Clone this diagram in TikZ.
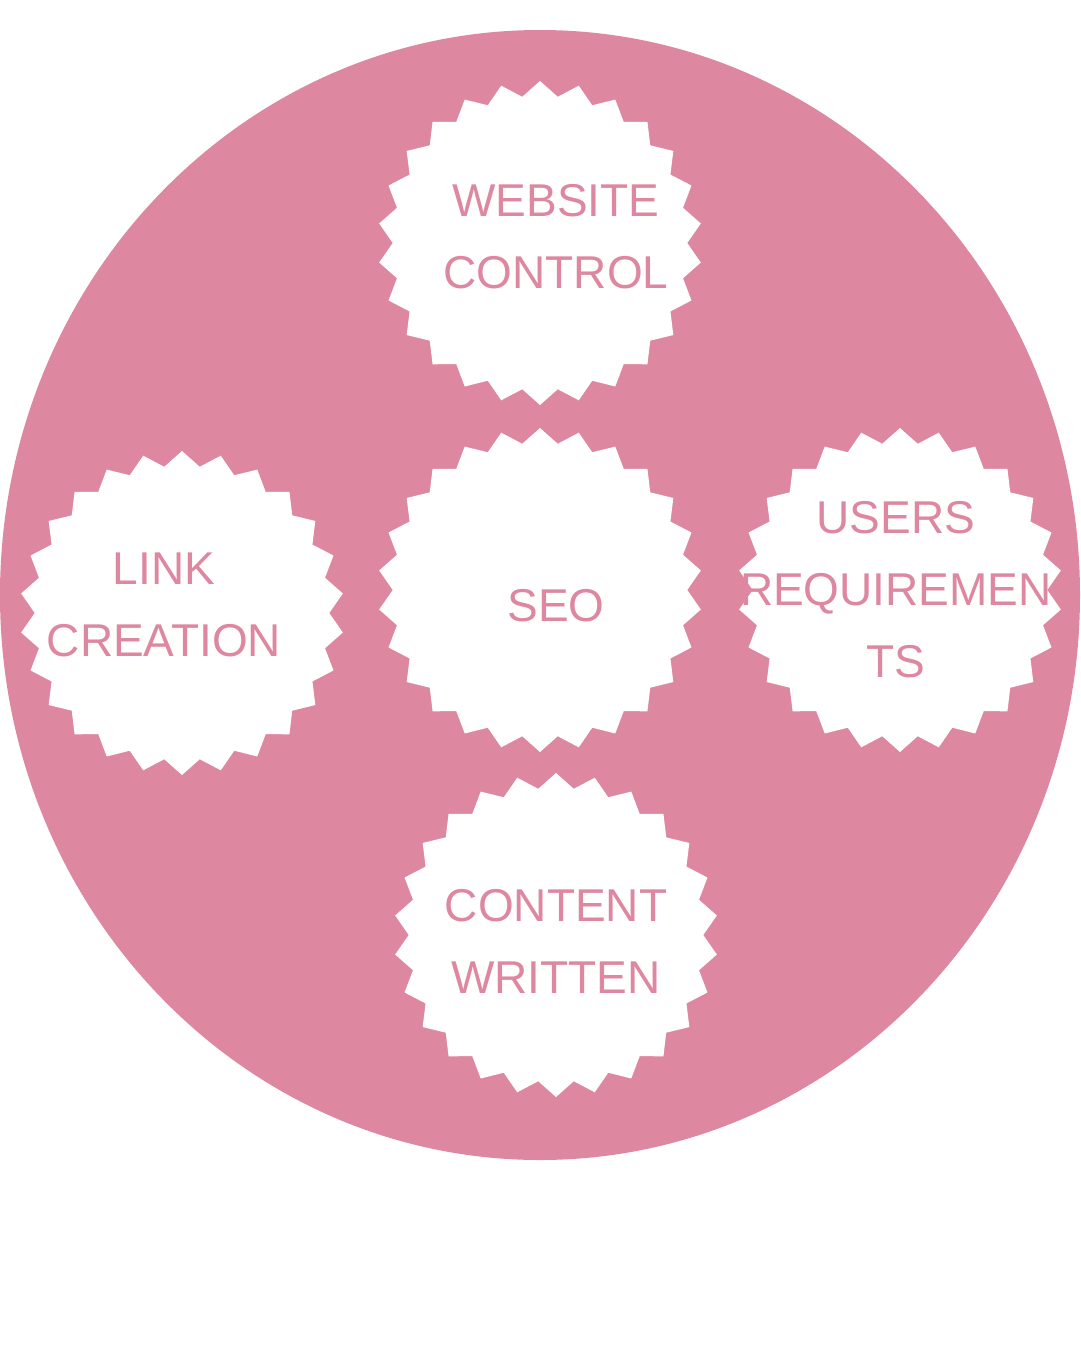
\documentclass[tikz,border=0pt]{standalone}
\usepackage{fontspec}
\setmainfont{Liberation Sans}
\usetikzlibrary{shapes.geometric}
\definecolor{pinkbg}{HTML}{DE87A1}
\tikzset{
  lbl/.style={text=pinkbg,font=\fontsize{46}{72}\selectfont,align=center,inner sep=0pt},
  burstshape/.style={star,star points=26,star point ratio=1.1,minimum size=324pt,inner sep=0pt,fill=white,draw=none}}
\begin{document}
\begin{tikzpicture}[x=1pt,y=-1pt]
\useasboundingbox (0,0) rectangle (1080,1350);
\fill[pinkbg] (540,595) ellipse [x radius=540, y radius=565];
\node[burstshape] (wc) at (540,243) {};
\node[burstshape] (seo) at (540,590) {};
\node[burstshape] (lc) at (182,613) {};
\node[burstshape] (ur) at (900,590) {};
\node[burstshape] (cw) at (556,935) {};
\node[lbl] (twc) at (556,237) {WEBSITE\\CONTROL};
\node[lbl] (tseo) at (556,606) {SEO};
\node[lbl] (tlc) at (164,605) {LINK\\CREATION};
\node[lbl] (tur) at (896,590) {USERS\\REQUIREMEN\\TS};
\node[lbl] (tcw) at (556,941) {CONTENT\\WRITTEN};
\end{tikzpicture}
\end{document}
